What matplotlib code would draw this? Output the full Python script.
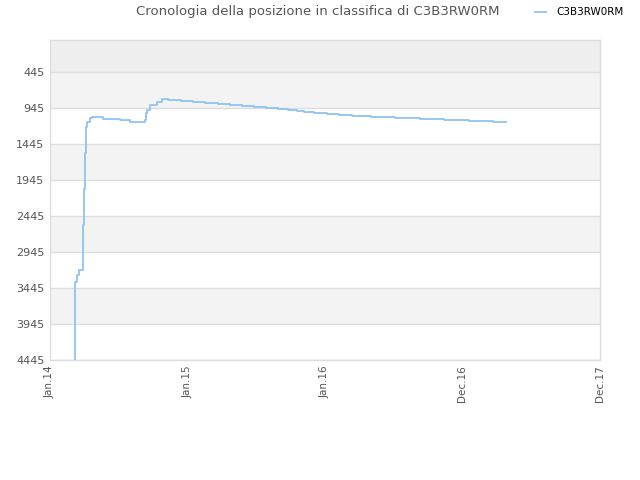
import matplotlib
matplotlib.use("Agg")
import matplotlib.pyplot as plt

# x in years since Jan.14 (axis ticks evenly spaced)
x_years = [0.182, 0.182, 0.196, 0.211, 0.238, 0.238, 0.247, 0.247, 0.255, 0.255,
           0.262, 0.262, 0.269, 0.291, 0.305, 0.385, 0.509, 0.582, 0.655, 0.691,
           0.698, 0.705, 0.727, 0.778,
           0.812, 0.860, 0.950, 1.038, 1.127, 1.224, 1.309, 1.394, 1.484, 1.571,
           1.660, 1.729, 1.794, 1.847, 1.920, 2.012, 2.102, 2.194, 2.332, 2.509,
           2.691, 2.865, 3.047, 3.222, 3.316]
ranks = [4445, 3362, 3264, 3195, 3153, 2570, 2570, 2070, 2070, 1566,
         1566, 1209, 1139, 1084, 1070, 1094, 1112, 1144, 1144, 1112,
         1014, 973, 903, 857,
         816, 830, 844, 857, 876, 889, 903, 917, 931, 945,
         959, 972, 991, 996, 1010, 1024, 1038, 1051, 1066, 1080,
         1094, 1107, 1121, 1135, 1135]

tick_pos = [0, 1, 2, 3, 4]
tick_labels = ["Jan.14", "Jan.15", "Jan.16", "Dec.16", "Dec.17"]
y_ticks = [445, 945, 1445, 1945, 2445, 2945, 3445, 3945, 4445]
series_name = "C3B3RW0RM"
title = "Cronologia della posizione in classifica di C3B3RW0RM"

fig = plt.figure(figsize=(6.4, 4.8), dpi=100)
ax = fig.add_axes([50/640, 1-360/480, 550/640, 320/480])

ymin, ymax = 1, 4445
ax.set_ylim(ymax, ymin)
ax.set_xlim(0, 4)

# background bands
ax.axhspan(ymin, 445, color="#eeeeee", zorder=0, lw=0)
for i in range(len(y_ticks) - 1):
    if i % 2 == 0:
        ax.axhspan(y_ticks[i], y_ticks[i+1], color="#f3f3f3", zorder=0, lw=0)
for yt in y_ticks:
    ax.axhline(yt, color="#dddddd", lw=1, zorder=1)

ax.plot(x_years, ranks, drawstyle="steps-post", color="#90c2f3", lw=1.3,
        zorder=3, label=series_name)

ax.set_yticks(y_ticks)
ax.set_yticklabels([str(v) for v in y_ticks], fontsize=8, color="#555555")
ax.set_xticks(tick_pos)
ax.set_xticklabels(tick_labels, rotation=90, fontsize=7.5, color="#555555")
ax.tick_params(length=0, pad=4)
for s in ax.spines.values():
    s.set_color("#dddddd")
    s.set_linewidth(1)

fig.text(0.497, 0.976, title, ha="center", va="center", fontsize=9.5, color="#555555")
fig.legend(handles=ax.get_lines()[-1:], labels=[series_name], loc="center",
           bbox_to_anchor=(0.905, 0.974), frameon=False, fontsize=7.5,
           handlelength=1.0, handletextpad=1.0)

fig.savefig("out.png", dpi=100)
